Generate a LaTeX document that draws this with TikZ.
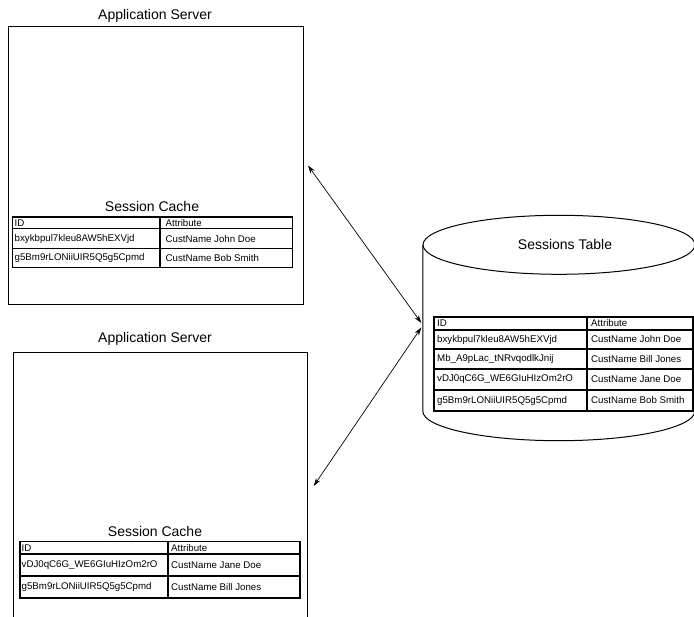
\documentclass[tikz,border=0pt]{standalone}
\usepackage{fontspec}
\setmainfont{Liberation Sans}
\usetikzlibrary{arrows.meta,calc}

\begin{document}
\begin{tikzpicture}[x=1pt,y=-1pt,
  server/.style={draw, line width=1pt, inner sep=0, anchor=north west},
  title/.style={font=\fontsize{14}{16}\selectfont, inner sep=0},
  cell/.style={font=\fontsize{9.7}{11}\selectfont, inner sep=0, anchor=west},
  grid/.style={line width=1.2pt},
  tip/.tip={Stealth[length=8pt,width=5pt]},
  link/.style={line width=0.7pt, tip-tip}]
\useasboundingbox (0,0) rectangle (694,617);
\clip (0,0) rectangle (694,617);

% ---- first application server ----
\node[title] (title1) at (155,16) {Application Server};
\node[server, minimum width=295, minimum height=278] (srv1) at (8,26) {};
\node[title] (cache1) at (152,206) {Session Cache};
\draw[grid] (12.5,217) rectangle (292.7,267.5);
\draw[grid] (160,217) -- (160,267.5);
\draw[grid] (12.5,228.8) -- (292.7,228.8) (12.5,248.5) -- (292.7,248.5);
\node[cell] (c1h1) at (14.5,223.2) {ID};
\node[cell] (c1h2) at (165.5,223.2) {Attribute};
\node[cell] (c1a1) at (14.5,238.6) {bxykbpul7kleu8AW5hEXVjd};
\node[cell] (c1a2) at (165.5,238.6) {CustName John Doe};
\node[cell] (c1b1) at (14.5,258) {g5Bm9rLONiiUIR5Q5g5Cpmd};
\node[cell] (c1b2) at (165.5,258) {CustName Bob Smith};

% ---- second application server ----
\node[title] (title2) at (155,339) {Application Server};
\node[server, minimum width=294.5, minimum height=267] (srv2) at (12.7,352) {};
\node[title] (cache2) at (155,531) {Session Cache};
\draw[grid] (20,541.5) rectangle (300,598);
\draw[grid] (168,541.5) -- (168,598);
\draw[grid] (20,554) -- (300,554) (20,576) -- (300,576);
\node[cell] (c2h1) at (21.5,547.8) {ID};
\node[cell] (c2h2) at (171,547.8) {Attribute};
\node[cell] (c2a1) at (21.5,565) {vDJ0qC6G\_WE6GIuHIzOm2rO};
\node[cell] (c2a2) at (171,565) {CustName Jane Doe};
\node[cell] (c2b1) at (21.5,587) {g5Bm9rLONiiUIR5Q5g5Cpmd};
\node[cell] (c2b2) at (171,587) {CustName Bill Jones};

% ---- database cylinder ----
\node[inner sep=0, minimum width=272, minimum height=166] (db) at (559,328) {};
\draw[line width=1pt] (db.north west) -- (db.south west)
  arc[start angle=180, end angle=360, x radius=136pt, y radius=29.5pt]
  -- (db.north east);
\draw[line width=1pt] (db.north) ellipse [x radius=136pt, y radius=29.5pt];
\node[title] (dbtitle) at (565,244) {Sessions Table};

\draw[grid] (434,317) rectangle (693,411);
\draw[grid] (587,317) -- (587,411);
\draw[grid] (434,330) -- (693,330) (434,349) -- (693,349)
            (434,369) -- (693,369) (434,390) -- (693,390);
\node[cell] (s0a) at (437,323.5) {ID};
\node[cell] (s0b) at (591,323.5) {Attribute};
\node[cell] (s1a) at (437,339.5) {bxykbpul7kleu8AW5hEXVjd};
\node[cell] (s1b) at (591,339.5) {CustName John Doe};
\node[cell] (s2a) at (437,359) {Mb\_A9pLac\_tNRvqodlkJnij};
\node[cell] (s2b) at (591,359) {CustName Bill Jones};
\node[cell] (s3a) at (437,379.5) {vDJ0qC6G\_WE6GIuHIzOm2rO};
\node[cell] (s3b) at (591,379.5) {CustName Jane Doe};
\node[cell] (s4a) at (437,400.5) {g5Bm9rLONiiUIR5Q5g5Cpmd};
\node[cell] (s4b) at (591,400.5) {CustName Bob Smith};

% ---- links between servers and the database ----
\draw[link] ($(srv1.east)+(4,0)$) -- ($(db.west)+(-1.5,-5)$);
\draw[link] ($(srv2.east)+(5.5,0)$) -- ($(db.west)+(-1.5,-0.5)$);
\end{tikzpicture}
\end{document}
